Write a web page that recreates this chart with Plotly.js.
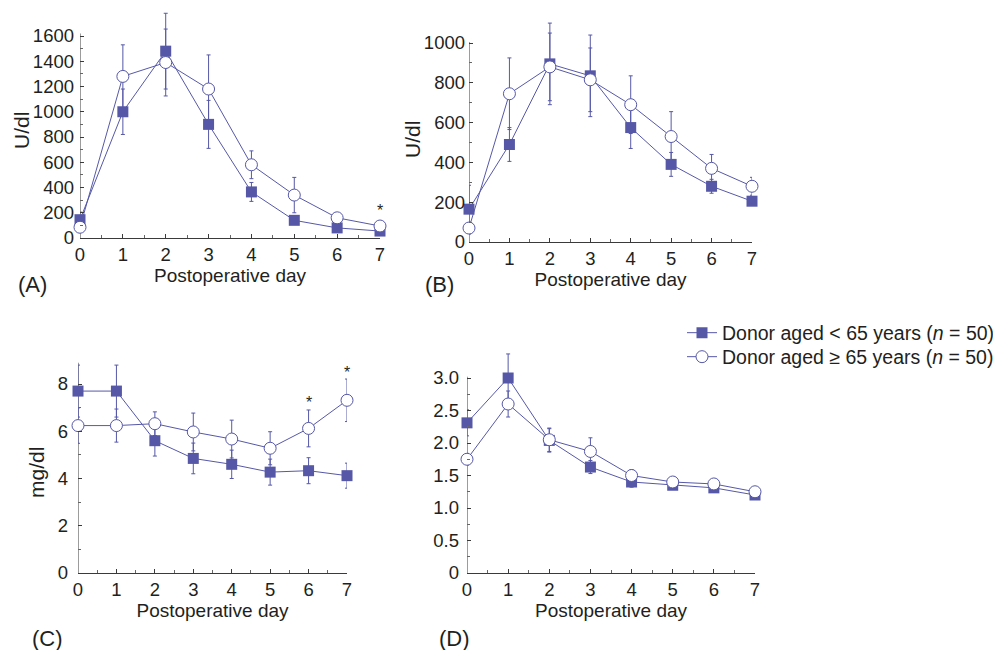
<!DOCTYPE html>
<html>
<head>
<meta charset="utf-8">
<script src="https://cdn.plot.ly/plotly-3.0.1.min.js"></script>
<style>html,body{margin:0;padding:0;background:#fff;}#chart{width:993px;height:650px;}</style>
</head>
<body>
<div id="chart"></div>
<script>
// ---- Data ----
const days = [0, 1, 2, 3, 4, 5, 6, 7];

const A_young = [145, 1000, 1480, 900, 365, 140, 80, 55];
const A_young_err = [60, 180, 300, 190, 75, 30, 20, 15];
const A_old = [85, 1280, 1390, 1180, 580, 340, 160, 95];
const A_old_err = [20, 250, 265, 270, 110, 140, 40, 20];

const B_young = [165, 490, 895, 835, 575, 390, 280, 205];
const B_young_err = [120, 85, 205, 205, 105, 60, 35, 20];
const B_old = [70, 745, 880, 815, 690, 530, 370, 280];
const B_old_err = [30, 180, 170, 160, 145, 125, 70, 45];

const C_young = [7.7, 7.7, 5.6, 4.85, 4.6, 4.27, 4.33, 4.12];
const C_young_err = [1.1, 1.1, 0.65, 0.65, 0.6, 0.55, 0.55, 0.53];
const C_old = [6.24, 6.24, 6.32, 5.97, 5.67, 5.28, 6.12, 7.31];
const C_old_err = [0.75, 0.7, 0.5, 0.8, 0.8, 0.7, 0.78, 0.9];

const D_young = [2.31, 3.0, 2.04, 1.63, 1.40, 1.35, 1.31, 1.20];
const D_young_err = [0.2, 0.37, 0.18, 0.1, 0.08, 0.05, 0.05, 0.03];
const D_old = [1.75, 2.60, 2.05, 1.87, 1.50, 1.40, 1.37, 1.25];
const D_old_err = [0.09, 0.2, 0.18, 0.21, 0.09, 0.06, 0.06, 0.03];

const seriesNames = ['Donor aged &lt; 65 years (<i>n</i> = 50)', 'Donor aged ≥ 65 years (<i>n</i> = 50)'];
const panelLabels = ['(A)', '(B)', '(C)', '(D)'];
const yTitles = ['U/dl', 'U/dl', 'mg/dl', ''];
const xTitle = 'Postoperative day';
const D_tickText = ['0', '0.5', '1.0', '1.5', '2.0', '2.5', '3.0'];
// significance asterisks
const starsA = {x: [7], y: [220]};
const starsC = {x: [6, 7], y: [7.2, 8.5]};

// ---- Style ----
const W = 993, H = 650;
const COL = '#5658a7';
const TXT = '#231f20';
const AXC = '#3a3a3a';
const FONT = 'Liberation Sans, Arial, sans-serif';

// pixel geometry per panel
const geo = [
  {x0: 80, x1: 380, yb: 238, yt: 36, axMax: 1600, rMax: 1820, lineTop: 1620, dt: 200, mdt: 100, lblOff: 5, title: [21, 131]},
  {x0: 469, x1: 752, yb: 242, yt: 43, axMax: 1000, rMax: 1130, lineTop: 1005, dt: 200, mdt: 100, lblOff: 3, title: [412, 140]},
  {x0: 78, x1: 347, yb: 573, yt: 384, axMax: 8, rMax: 9.1, lineTop: 8.9, dt: 2, mdt: 1, lblOff: 9, title: [37, 473]},
  {x0: 467, x1: 755, yb: 573, yt: 378, axMax: 3, rMax: 3.45, lineTop: 3.02, dt: 0.5, mdt: 0.25, lblOff: 7, title: null}
];
const dataSets = [
  [A_young, A_young_err, A_old, A_old_err],
  [B_young, B_young_err, B_old, B_old_err],
  [C_young, C_young_err, C_old, C_old_err],
  [D_young, D_young_err, D_old, D_old_err]
];

const traces = [];
const shapes = [];
const legendCommon = {x: 682 / W, xanchor: 'left', yanchor: 'middle', font: {size: 19.5, color: TXT},
                      bgcolor: 'rgba(0,0,0,0)', tracegroupgap: 0, itemwidth: 30};
const layout = {
  width: W, height: H,
  margin: {l: 0, r: 0, t: 0, b: 0, autoexpand: false},
  paper_bgcolor: '#fff', plot_bgcolor: 'rgba(0,0,0,0)',
  font: {family: FONT, color: TXT, size: 19},
  showlegend: true,
  legend: Object.assign({}, legendCommon, {y: 1 - 333 / H}),
  legend2: Object.assign({}, legendCommon, {y: 1 - 357 / H}),
  annotations: [],
  shapes: shapes
};

function seq(step, max) {
  const out = [];
  for (let v = 0; v <= max + 1e-9; v += step) out.push(Math.round(v * 1000) / 1000);
  return out;
}

geo.forEach((g, i) => {
  const [yv, ye, ov, oe] = dataSets[i];
  const xa = i === 0 ? 'x' : 'x' + (i + 1);
  const ya = i === 0 ? 'y' : 'y' + (i + 1);
  const xk = i === 0 ? 'xaxis' : 'xaxis' + (i + 1);
  const yk = i === 0 ? 'yaxis' : 'yaxis' + (i + 1);
  traces.push({
    x: days, y: yv, xaxis: xa, yaxis: ya, type: 'scatter', mode: 'lines+markers',
    name: seriesNames[0], showlegend: i === 0, legend: 'legend', legendgroup: 'young', cliponaxis: false,
    line: {color: COL, width: 1},
    marker: {symbol: 'square', size: 11, color: COL, line: {width: 0}},
    error_y: {type: 'data', array: ye, visible: true, color: COL, thickness: 1, width: 2}
  });
  traces.push({
    x: days, y: ov, xaxis: xa, yaxis: ya, type: 'scatter', mode: 'lines+markers',
    name: seriesNames[1], showlegend: i === 0, legend: 'legend2', legendgroup: 'old', cliponaxis: false,
    line: {color: COL, width: 1},
    marker: {symbol: 'circle', size: 12, color: '#fff', line: {width: 1, color: COL}},
    error_y: {type: 'data', array: oe, visible: true, color: COL, thickness: 1, width: 2}
  });
  const pxPerUnit = (g.yb - g.yt) / g.axMax;
  const topPx = g.yb - g.rMax * pxPerUnit;
  layout[xk] = {
    domain: [g.x0 / W, g.x1 / W], anchor: ya, range: [0, 7], dtick: 1, tick0: 0,
    showgrid: false, zeroline: false, showline: true, linecolor: AXC, linewidth: 1,
    ticks: 'inside', ticklen: 4, tickcolor: AXC,
    minor: {ticks: 'inside', ticklen: 3, dtick: 0.5, tickcolor: '#666', showgrid: false},
    tickfont: {size: 18.5, color: TXT}, ticklabelstandoff: 0,
    title: {text: xTitle, font: {size: 19, color: TXT}, standoff: 2}
  };
  const tv = seq(g.dt, g.axMax);
  layout[yk] = {
    domain: [1 - g.yb / H, 1 - topPx / H], anchor: xa, range: [0, g.rMax],
    tickmode: 'array', tickvals: tv, ticktext: i === 3 ? D_tickText : tv.map(String),
    showgrid: false, zeroline: false, showline: false,
    ticks: 'inside', ticklen: 4, tickcolor: AXC,
    minor: {ticks: 'inside', ticklen: 3, tickmode: 'array', tickvals: seq(g.mdt, g.axMax), tickcolor: '#666', showgrid: false},
    tickfont: {size: 18.5, color: TXT}, ticklabelstandoff: g.lblOff
  };
  shapes.push({type: 'line', xref: xa, yref: ya, x0: 0, x1: 0, y0: 0, y1: g.lineTop,
               line: {color: AXC, width: 1}, layer: 'below'});
  if (g.title) {
    layout.annotations.push({x: g.title[0] / W, y: 1 - g.title[1] / H, xref: 'paper', yref: 'paper',
      text: yTitles[i], textangle: -90, showarrow: false, xanchor: 'center', yanchor: 'middle',
      font: {size: 21, color: TXT}});
  }
});

// asterisks
starsA.x.forEach((d, k) => layout.annotations.push({x: d, y: starsA.y[k], xref: 'x', yref: 'y', text: '*', showarrow: false, font: {size: 16, color: TXT}}));
starsC.x.forEach((d, k) => layout.annotations.push({x: d, y: starsC.y[k], xref: 'x3', yref: 'y3', text: '*', showarrow: false, font: {size: 16, color: TXT}}));

// panel labels
const labelPos = [[32, 284], [439, 284], [47, 638], [454, 638]];
panelLabels.forEach((t, i) => layout.annotations.push({
  x: labelPos[i][0] / W, y: 1 - labelPos[i][1] / H, xref: 'paper', yref: 'paper', text: t,
  showarrow: false, font: {size: 22, color: TXT}, xanchor: 'center', yanchor: 'middle'
}));

Plotly.newPlot('chart', traces, layout, {displayModeBar: false, staticPlot: true});
</script>
</body>
</html>
